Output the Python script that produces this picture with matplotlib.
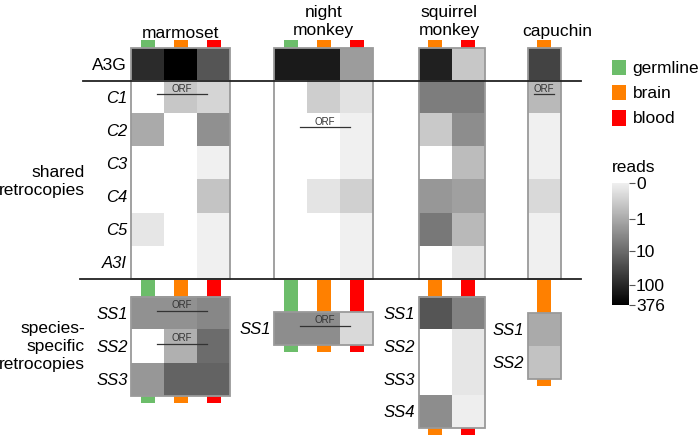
import numpy as np
import matplotlib
matplotlib.use("Agg")
import matplotlib.pyplot as plt
from matplotlib.colors import LinearSegmentedColormap, FuncNorm
from matplotlib.patches import Rectangle
import matplotlib.cm as cm

plt.rcParams['font.family'] = ['Liberation Sans', 'DejaVu Sans']

nan = np.nan
# ---------------- data (reads) ----------------
species = ['marmoset', 'night\nmonkey', 'squirrel\nmonkey', 'capuchin']
tissues = {
    'marmoset': ['germline', 'brain', 'blood'],
    'night\nmonkey': ['germline', 'brain', 'blood'],
    'squirrel\nmonkey': ['brain', 'blood'],
    'capuchin': ['brain'],
}
shared_rows = ['C1', 'C2', 'C3', 'C4', 'C5', 'A3I']

marmoset_a3g = [85, 376, 20]
marmoset_shared = [[nan, 0.3, 0.15], [1.0, nan, 2.6], [nan, nan, 0], [nan, nan, 0.35], [0.04, nan, 0], [nan, nan, 0]]
marmoset_ss = [[2.4, 2.4, 3.5], [nan, 0.8, 9], [2, 12, 12]]

night_a3g = [150, 150, 1.7]
night_shared = [[nan, 0.22, 0.06], [nan, nan, 0], [nan, nan, 0], [nan, 0.05, 0.2], [nan, nan, 0], [nan, nan, 0]]
night_ss = [[2.9, 2.9, 0.12]]

squirrel_a3g = [120, 0.3]
squirrel_shared = [[5, 5], [0.28, 2.9], [nan, 0.5], [2, 1.4], [6, 0.55], [nan, 0.04]]
squirrel_ss = [[20, 4.2], [nan, 0.04], [nan, 0.04], [2.9, 0.01]]

capuchin_a3g = [36]
capuchin_shared = [[0.55], [0], [0], [0.12], [0], [0]]
capuchin_ss = [[1.0], [0.38]]

ss_labels = {
    'marmoset': ['SS1', 'SS2', 'SS3'],
    'night\nmonkey': ['SS1'],
    'squirrel\nmonkey': ['SS1', 'SS2', 'SS3', 'SS4'],
    'capuchin': ['SS1', 'SS2'],
}
a3g_data = [marmoset_a3g, night_a3g, squirrel_a3g, capuchin_a3g]
shared_data = [marmoset_shared, night_shared, squirrel_shared, capuchin_shared]
ss_data = [marmoset_ss, night_ss, squirrel_ss, capuchin_ss]

# ORF marks: (species index, section, row, x start frac, x end frac) in column units
orf_marks = [(0, 'shared', 0, 0.8, 2.3), (1, 'shared', 1, 0.8, 2.3), (3, 'shared', 0, 0.2, 0.8),
             (0, 'ss', 0, 0.8, 2.3), (0, 'ss', 1, 0.8, 2.3), (1, 'ss', 0, 0.8, 2.3)]

cbar_ticks = [0, 1, 10, 100, 376]
tissue_colors = {'germline': '#6cbd6a', 'brain': '#ff8000', 'blood': '#ff0000'}

# ---------------- layout ----------------
W, H = 699, 436
fig = plt.figure(figsize=(W / 100, H / 100), dpi=100)
ax = fig.add_axes([0, 0, 1, 1])
ax.set_xlim(0, W)
ax.set_ylim(H, 0)
ax.axis('off')

cmap = LinearSegmentedColormap.from_list('g', ['#f0f0f0', '#000000'])
cmap.set_bad('white')
fwd = lambda x: np.log10(np.asarray(x, dtype=float) + 0.1)
inv = lambda y: 10 ** np.asarray(y, dtype=float) - 0.1
norm = FuncNorm((fwd, inv), vmin=0, vmax=376)

x0s = [131, 274, 418.5, 527.5]
cw = 33.0
rh = 33.0
y_a3g = 48.0
y_shared = y_a3g + rh
y_line2 = y_shared + 6 * rh
ss_tops = [297, 312, 297, 313]
ss_rh = [33.0, 33.0, 32.8, 33.0]
title_y = [38, 35, 35, 36]
title_x = [180.5, 323.5, 449, 557]
fs = 12.5
edge = '#9a9a9a'

def block(data, x0, y0, h):
    arr = np.array(data, dtype=float)
    if arr.ndim == 1:
        arr = arr[None, :]
    nr, nc = arr.shape
    ax.imshow(np.ma.masked_invalid(arr), cmap=cmap, norm=norm, aspect='auto',
              extent=(x0, x0 + nc * cw, y0 + nr * h, y0), interpolation='nearest', zorder=1)
    return nr, nc

for i, sp in enumerate(species):
    x0 = x0s[i]
    tis = tissues[sp]
    nc = len(tis)
    block(a3g_data[i], x0, y_a3g, rh)
    block(shared_data[i], x0, y_shared, rh)
    ax.add_patch(Rectangle((x0, y_a3g), nc * cw, 7 * rh, fill=False, ec=edge, lw=1.3, zorder=3))
    nr, _ = block(ss_data[i], x0, ss_tops[i], ss_rh[i])
    ss_bot = ss_tops[i] + nr * ss_rh[i]
    ax.add_patch(Rectangle((x0, ss_tops[i]), nc * cw, nr * ss_rh[i], fill=False, ec=edge, lw=1.3, zorder=3))
    for j, t in enumerate(tis):
        cx = x0 + (j + 0.5) * cw
        c = tissue_colors[t]
        ax.add_patch(Rectangle((cx - 7, 40), 14, y_a3g - 40, color=c, lw=0, zorder=2))
        ax.add_patch(Rectangle((cx - 7, y_line2 + 1), 14, ss_tops[i] - y_line2 - 1, color=c, lw=0, zorder=2))
        ax.add_patch(Rectangle((cx - 7, ss_bot), 14, 7, color=c, lw=0, zorder=2))
    ax.text(title_x[i], title_y[i], sp, ha='center', va='baseline', fontsize=fs, linespacing=1.25)
    for k, lab in enumerate(ss_labels[sp]):
        ax.text(x0 - 3, ss_tops[i] + (k + 0.5) * ss_rh[i] + 1, lab, ha='right', va='center',
                fontsize=12, style='italic')

# shared row labels
ax.text(127, y_a3g + rh / 2 + 1, 'A3G', ha='right', va='center', fontsize=fs)
for k, lab in enumerate(shared_rows):
    ax.text(127, y_shared + (k + 0.5) * rh + 1, lab, ha='right', va='center', fontsize=12, style='italic')

ax.text(85, 181, 'shared\nretrocopies', ha='right', va='center', fontsize=fs, linespacing=1.25, multialignment='right')
ax.text(85, 346, 'species-\nspecific\nretrocopies', ha='right', va='center', fontsize=fs, linespacing=1.25,
        multialignment='right')

# separator lines
ax.plot([83, 581], [y_shared, y_shared], color='#222222', lw=1.3, zorder=4)
ax.plot([80, 581], [y_line2, y_line2], color='#222222', lw=1.3, zorder=4)

# ORF marks
for (i, sec, r, a, b) in orf_marks:
    x0 = x0s[i]
    if sec == 'shared':
        ytop, h = y_shared, rh
    else:
        ytop, h = ss_tops[i], ss_rh[i]
    yl = ytop + r * h + 13.5
    xa, xb = x0 + a * cw, x0 + b * cw
    ax.plot([xa, xb], [yl, yl], color='#333333', lw=0.9, zorder=5)
    ax.text((xa + xb) / 2, yl - 1, 'ORF', ha='center', va='bottom', fontsize=7, color='#333333', zorder=5)

# legend
for k, t in enumerate(['germline', 'brain', 'blood']):
    yy = 60 + k * 25
    ax.add_patch(Rectangle((612, yy), 13.5, 15.5, color=tissue_colors[t], lw=0))
    ax.text(632.5, yy + 8.5, t, ha='left', va='center', fontsize=fs)

# colorbar
ax.text(612, 172, 'reads', ha='left', va='baseline', fontsize=fs)
cax = fig.add_axes([612 / W, 1 - 305 / H, 17 / W, 122 / H])
sm = cm.ScalarMappable(norm=norm, cmap=cmap)
cb = fig.colorbar(sm, cax=cax, ticks=cbar_ticks)
cb.set_ticklabels([str(t) for t in cbar_ticks])
cb.outline.set_visible(False)
cax.invert_yaxis()
cax.tick_params(axis='y', length=4, width=0.8, color='#555555', labelsize=fs, pad=1)
cax.minorticks_off()

fig.savefig('out.png', dpi=100)
